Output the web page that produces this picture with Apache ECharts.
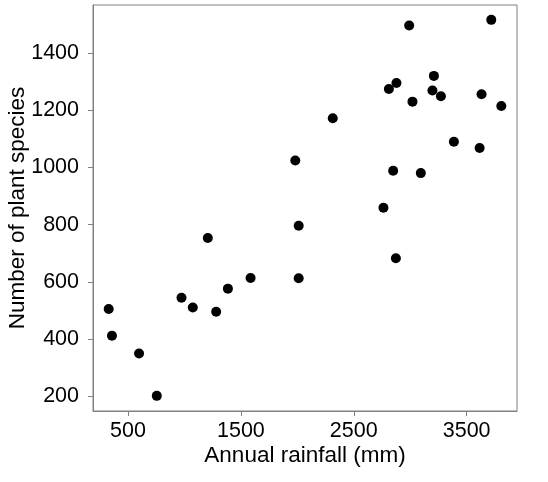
<!DOCTYPE html>
<html>
<head>
<meta charset="utf-8">
<script src="https://cdn.jsdelivr.net/npm/echarts@6/dist/echarts.min.js"></script>
<style>html,body{margin:0;padding:0;background:#fff}#c{width:548px;height:482px}</style>
</head>
<body>
<div id="c"></div>
<script>
const rainfall = [329, 358, 598, 755, 974, 1074, 1207, 1281, 1385, 1586, 1982, 2012, 2012,
  2314, 2763, 2811, 2849, 2873, 2878, 2991, 3020, 3094, 3197, 3210, 3272, 3387, 3615, 3632, 3718, 3807];
const species = [505, 411, 349, 201, 544, 510, 753, 495, 576, 613, 1024, 796, 612,
  1172, 859, 1274, 988, 682, 1295, 1496, 1230, 980, 1269, 1320, 1249, 1090, 1068, 1256, 1516, 1215];
const xTicks = [500, 1500, 2500, 3500];
const yTicks = [200, 400, 600, 800, 1000, 1200, 1400];

const points = rainfall.map((x, i) => [x, species[i]]);
const font = 'Liberation Sans, Arial, sans-serif';
const chart = echarts.init(document.getElementById('c'));
chart.setOption({
  animation: false,
  backgroundColor: '#fff',
  grid: { left: 93, right: 31, top: 5, bottom: 71, show: true, borderColor: '#808080', borderWidth: 1,
          containLabel: false, outerBoundsMode: 'none' },
  xAxis: {
    type: 'value', min: 190, max: 3946,
    name: 'Annual rainfall (mm)', nameLocation: 'middle', nameGap: 33, nameMoveOverlap: false,
    nameTextStyle: { fontFamily: font, fontSize: 22.5, color: '#000' },
    axisLine: { show: true, lineStyle: { color: '#808080', width: 1 } },
    axisTick: { show: true, length: 5, customValues: xTicks, lineStyle: { color: '#808080' } },
    axisLabel: { customValues: xTicks, formatter: v => String(v), fontFamily: font, fontSize: 21.5, color: '#000', margin: 9 },
    splitLine: { show: false }
  },
  yAxis: {
    type: 'value', min: 148, max: 1568,
    name: 'Number of plant species', nameLocation: 'middle', nameGap: 64, nameMoveOverlap: false,
    nameTextStyle: { fontFamily: font, fontSize: 22.5, color: '#000' },
    axisLine: { show: true, lineStyle: { color: '#808080', width: 1 } },
    axisTick: { show: true, length: 5, customValues: yTicks, lineStyle: { color: '#808080' } },
    axisLabel: { customValues: yTicks, formatter: v => String(v), fontFamily: font, fontSize: 21.5, color: '#000', margin: 14 },
    splitLine: { show: false }
  },
  series: [{
    type: 'scatter', data: points, symbol: 'circle', symbolSize: 10,
    itemStyle: { color: '#000', opacity: 1 }
  }]
});
</script>
</body>
</html>
